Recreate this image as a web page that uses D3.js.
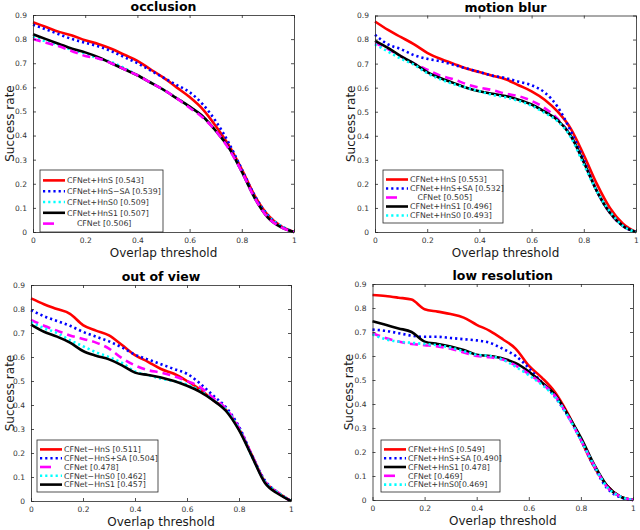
<!DOCTYPE html>
<html><head><meta charset="utf-8">
<script src="https://cdn.jsdelivr.net/npm/d3@7"></script>
<style>
body{margin:0;background:#fff;}
svg text{font-family:"DejaVu Sans",sans-serif;}
</style></head>
<body><svg id="c" width="640" height="530"></svg>
<script>
// thresholds
const thresholds = [0,0.05,0.1,0.15,0.2,0.25,0.3,0.35,0.4,0.45,0.5,0.55,0.6,0.65,0.7,0.75,0.8,0.85,0.9,0.95,1];
const yTicks = [0,0.1,0.2,0.3,0.4,0.5,0.6,0.7,0.8,0.9];
const xTicks = [0,0.2,0.4,0.6,0.8,1];

// occlusion
const occlusionKeys = ["HnS","HnS-SA","HnS0","HnS1","CFNet"];
const occlusionLabels = ["CFNet+HnS [0.543]","CFNet+HnS\u2212SA [0.539]","CFNet+HnS0 [0.509]","CFNet+HnS1 [0.507]","    CFNet [0.506]"];
const occlusionHnS   = [.87,.85,.83,.815,.795,.78,.76,.735,.71,.675,.64,.60,.56,.51,.44,.36,.26,.15,.07,.025,0];
const occlusionHnSSA = [.86,.84,.82,.80,.785,.77,.75,.725,.70,.67,.64,.61,.58,.53,.46,.37,.26,.15,.07,.025,0];
const occlusionHnS0  = [.81,.79,.775,.755,.74,.72,.705,.68,.65,.62,.59,.555,.52,.48,.42,.35,.25,.14,.065,.025,0];
const occlusionHnS1  = [.82,.80,.78,.76,.745,.725,.70,.675,.65,.62,.59,.555,.52,.48,.42,.35,.25,.14,.06,.02,0];
const occlusionCFNet = [.80,.785,.77,.75,.73,.72,.70,.675,.65,.62,.59,.555,.515,.475,.42,.345,.25,.14,.06,.02,0];

// motion blur
const motionKeys = ["HnS","HnS-SA","CFNet","HnS1","HnS0"];
const motionLabels = ["CFNet+HnS [0.553]","CFNet+HnS+SA [0.532]","   CFNet [0.505]","CFNet+HnS1 [0.496]","CFNet+HnS0 [0.493]"];
const motionHnS   = [.875,.84,.81,.78,.745,.72,.70,.68,.665,.65,.635,.61,.585,.55,.50,.43,.32,.20,.10,.035,0];
const motionHnSSA = [.82,.78,.76,.735,.72,.71,.695,.68,.665,.65,.64,.625,.61,.58,.52,.42,.30,.17,.08,.025,0];
const motionCFNet = [.785,.76,.73,.70,.675,.65,.635,.615,.60,.59,.575,.565,.545,.515,.47,.40,.29,.17,.08,.025,0];
const motionHnS1  = [.795,.765,.73,.70,.665,.64,.62,.60,.585,.575,.565,.55,.53,.50,.465,.40,.29,.17,.08,.025,0];
const motionHnS0  = [.78,.75,.72,.695,.66,.635,.615,.60,.585,.57,.56,.545,.525,.495,.46,.395,.28,.17,.085,.025,0];

// out of view
const viewKeys = ["HnS","HnS-SA","CFNet","HnS0","HnS1"];
const viewLabels = ["CFNet\u2212HnS [0.511]","CFNet\u2212HnS+SA [0.504]","CFNet [0.478]","CFNet\u2212HnS0 [0.462]","CFNet\u2212HnS1 [0.457]"];
const viewHnS   = [.844,.82,.80,.78,.733,.71,.69,.65,.608,.58,.55,.53,.50,.465,.42,.38,.30,.19,.08,.035,0];
const viewHnSSA = [.795,.77,.75,.73,.705,.685,.665,.64,.61,.59,.57,.55,.53,.49,.44,.39,.31,.19,.085,.035,0];
const viewCFNet = [.755,.73,.71,.69,.675,.66,.635,.595,.565,.545,.535,.52,.50,.475,.43,.385,.305,.19,.08,.035,0];
const viewHnS0  = [.745,.72,.70,.67,.645,.62,.60,.575,.54,.525,.51,.50,.485,.46,.42,.38,.30,.185,.08,.035,0];
const viewHnS1  = [.735,.705,.685,.66,.625,.605,.59,.565,.535,.525,.515,.50,.48,.455,.42,.375,.295,.185,.075,.03,0];

// low resolution
const lowKeys = ["HnS","HnS-SA","HnS1","CFNet","HnS0"];
const lowLabels = ["CFNet+HnS [0.549]","CFNet+HnS+SA [0.490]","CFNet+HnS1 [0.478]","CFNet [0.469]","CFNet+HnS0[0.469]"];
const lowHnS   = [.854,.85,.843,.835,.795,.785,.775,.76,.73,.705,.67,.63,.56,.51,.45,.36,.25,.14,.06,.015,0];
const lowHnSSA = [.71,.705,.695,.685,.68,.68,.675,.67,.665,.655,.63,.60,.55,.49,.43,.35,.25,.14,.05,.012,0];
const lowHnS1  = [.745,.73,.715,.70,.66,.65,.64,.625,.605,.60,.59,.57,.535,.49,.44,.355,.26,.15,.06,.015,0];
const lowCFNet = [.695,.675,.66,.65,.645,.64,.63,.615,.60,.595,.585,.56,.525,.485,.435,.35,.25,.145,.055,.015,0];
const lowHnS0  = [.69,.67,.66,.655,.65,.645,.635,.62,.605,.60,.585,.555,.52,.48,.43,.35,.25,.145,.055,.015,0];

const titles = ["occlusion","motion blur","out of view","low resolution"];

const styles = {
  "HnS":    {color:"#ff0000", dash:null, ldash:null},
  "HnS-SA": {color:"#0000ff", dash:"2.2,3", ldash:"2.2,3"},
  "HnS0":   {color:"#00ffff", dash:"2.2,3", ldash:"2.2,3"},
  "HnS1":   {color:"#000000", dash:null, ldash:null},
  "CFNet":  {color:"#ff00ff", dash:"8,5", ldash:"11,30"}
};

const panels = [
  {title:titles[0], keys:occlusionKeys, labels:occlusionLabels,
   series:[occlusionHnS,occlusionHnSSA,occlusionHnS0,occlusionHnS1,occlusionCFNet],
   box:[33,294,15,232], legend:[40,170,123,62], ylab:10},
  {title:titles[1], keys:motionKeys, labels:motionLabels,
   series:[motionHnS,motionHnSSA,motionCFNet,motionHnS1,motionHnS0],
   box:[375,636,15.5,232], legend:[383,170,120,53], ylab:351},
  {title:titles[2], keys:viewKeys, labels:viewLabels,
   series:[viewHnS,viewHnSSA,viewCFNet,viewHnS0,viewHnS1],
   box:[31,291,285,501], legend:[37,440,121,52], ylab:10},
  {title:titles[3], keys:lowKeys, labels:lowLabels,
   series:[lowHnS,lowHnSSA,lowHnS1,lowCFNet,lowHnS0],
   box:[372.5,633,284,500], legend:[381,440,119,52], ylab:349}
];

const svg = d3.select("#c");
const fmt = v => v===0 ? "0" : (v===1 ? "1" : String(+v.toFixed(1)));

panels.forEach(p => {
  const [x0,x1,y0,y1] = p.box;
  const x = d3.scaleLinear().domain([0,1]).range([x0,x1]);
  const y = d3.scaleLinear().domain([0,0.9]).range([y1,y0]);
  const g = svg.append("g");

  // curves
  const line = d3.line().x((d,i)=>x(thresholds[i])).y(d=>y(d)).curve(d3.curveMonotoneX);
  p.series.forEach((s,k) => {
    const st = styles[p.keys[k]];
    g.append("path").attr("d", line(s)).attr("fill","none")
      .attr("stroke", st.color).attr("stroke-width", 2.6)
      .attr("stroke-dasharray", st.dash).attr("stroke-linejoin","round");
  });

  // axes
  const axStyle = sel => { sel.selectAll("path").attr("stroke","#262626").attr("stroke-width",0.8);
    sel.selectAll("line").attr("stroke","#262626").attr("stroke-width",0.8);
    sel.selectAll("text").attr("fill","#333").attr("font-size","7.5px").attr("font-family","DejaVu Sans, sans-serif"); };
  const ax = g.append("g").attr("transform",`translate(${x0},0)`)
    .call(d3.axisLeft(y).tickValues(yTicks).tickFormat(fmt).tickSizeInner(-3).tickSizeOuter(0).tickPadding(6));
  axStyle(ax);
  const bx = g.append("g").attr("transform",`translate(0,${y1})`)
    .call(d3.axisBottom(x).tickValues(xTicks).tickFormat(fmt).tickSizeInner(-3).tickSizeOuter(0).tickPadding(6));
  axStyle(bx);
  const rx = g.append("g").attr("transform",`translate(${x1},0)`)
    .call(d3.axisRight(y).tickValues(yTicks).tickFormat("").tickSizeInner(-3).tickSizeOuter(0));
  axStyle(rx);
  const tx = g.append("g").attr("transform",`translate(0,${y0})`)
    .call(d3.axisTop(x).tickValues(xTicks).tickFormat("").tickSizeInner(-3).tickSizeOuter(0));
  axStyle(tx);

  // title & labels
  g.append("text").attr("x",(x0+x1)/2).attr("y",y0-4).attr("text-anchor","middle")
    .attr("font-size","12.5px").attr("font-weight","bold").attr("fill","#000").text(p.title);
  g.append("text").attr("x",(x0+x1)/2).attr("y",y1+25).attr("text-anchor","middle")
    .attr("font-size","12px").attr("fill","#1a1a1a").text("Overlap threshold");
  g.append("text").attr("transform",`translate(${p.ylab+4},${(y0+y1)/2}) rotate(-90)`)
    .attr("text-anchor","middle").attr("font-size","12px").attr("fill","#1a1a1a").text("Success rate");

  // legend
  const [lx,ly,lw,lh] = p.legend;
  const lg = g.append("g");
  lg.append("rect").attr("x",lx).attr("y",ly).attr("width",lw).attr("height",lh)
    .attr("fill","#fff").attr("stroke","#262626").attr("stroke-width",0.8);
  const rowH = (lh-8)/5;
  p.labels.forEach((lab,k) => {
    const st = styles[p.keys[k]];
    const yy = ly + 5 + rowH*(k+0.5);
    lg.append("line").attr("x1",lx+3).attr("x2",lx+25).attr("y1",yy).attr("y2",yy)
      .attr("stroke",st.color).attr("stroke-width",2.6).attr("stroke-dasharray",st.ldash);
    lg.append("text").attr("x",lx+27).attr("y",yy+2.7).attr("font-size","7.8px")
      .attr("fill","#333").style("white-space","pre").text(lab);
  });
});
</script></body></html>
